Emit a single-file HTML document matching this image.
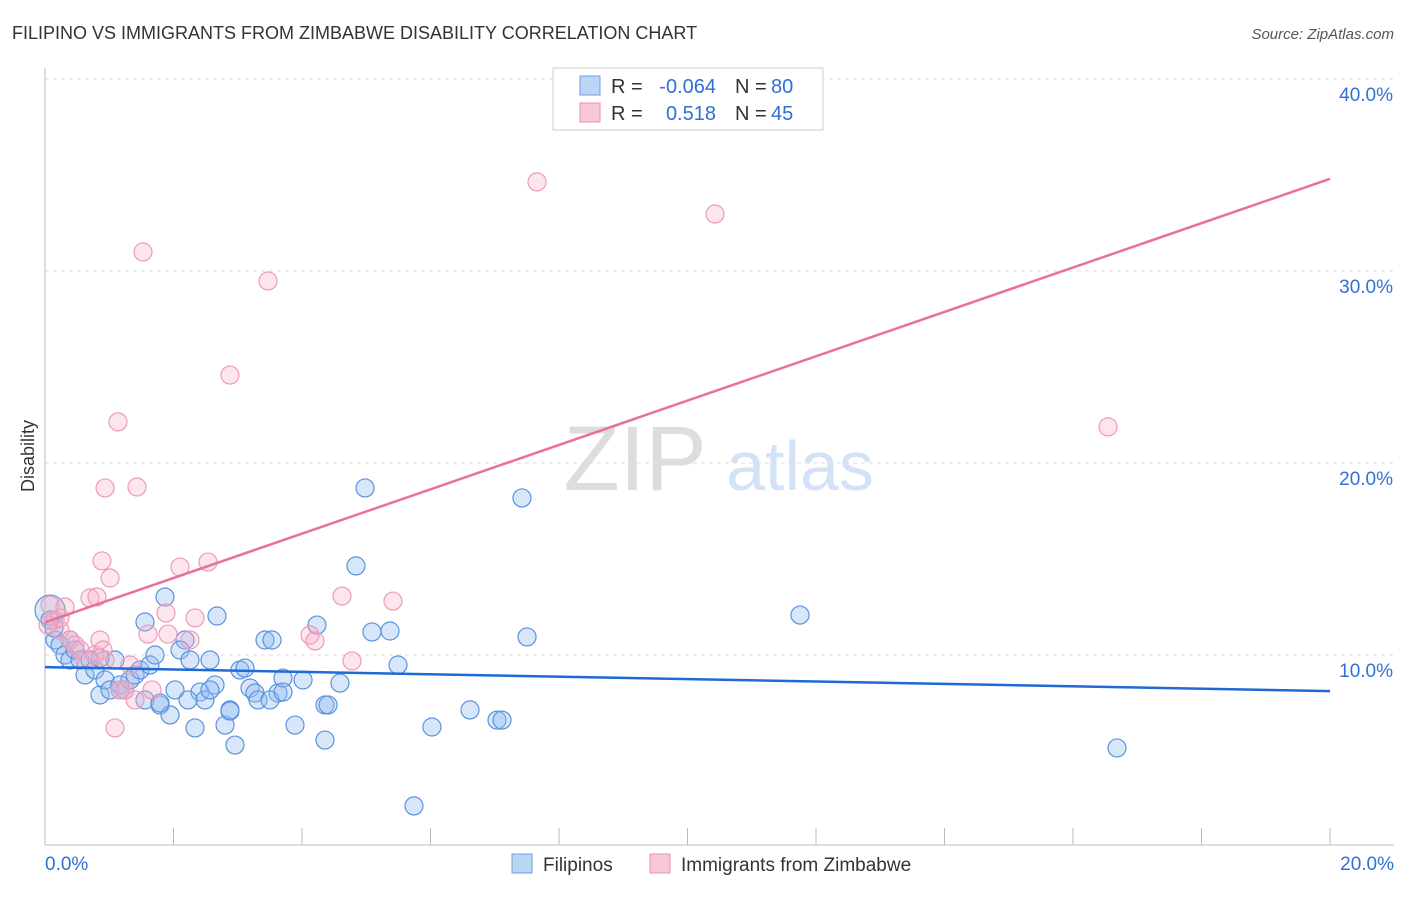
<!DOCTYPE html>
<html><head><meta charset="utf-8"><style>
body{margin:0;background:#fff;font-family:"Liberation Sans",sans-serif}
svg text{font-family:"Liberation Sans",sans-serif}
</style></head><body>
<svg id="chart" width="1406" height="892">
<text x="12" y="39" font-size="18" fill="#333">FILIPINO VS IMMIGRANTS FROM ZIMBABWE DISABILITY CORRELATION CHART</text>
<text x="1394" y="39" font-size="15" fill="#555" font-style="italic" text-anchor="end">Source: ZipAtlas.com</text>
<text x="34" y="456" font-size="18" fill="#333" transform="rotate(-90 34 456)" text-anchor="middle">Disability</text>
<g><text x="635" y="490" font-size="92" fill="#ddd" font-family="Liberation Serif" text-anchor="middle">ZIP</text><text x="800" y="490" font-size="70" fill="#d3e3f5" text-anchor="middle">atlas</text></g>
<g id="grid"></g><g id="axes"></g><g id="pts"></g><g id="lines"></g>
<g>
<rect x="553" y="68" width="270" height="62" fill="#fff" stroke="#ccc"/>
<rect x="580" y="76" width="20" height="19" fill="#bcd5f5" stroke="#6a9fe0"/>
<rect x="580" y="103" width="20" height="19" fill="#f9c8d8" stroke="#e890ad"/>
<text x="611" y="93" font-size="20" fill="#333">R =</text>
<text x="716" y="93" font-size="20" fill="#2f6fd6" text-anchor="end">-0.064</text>
<text x="735" y="93" font-size="20" fill="#333">N =</text>
<text x="771" y="93" font-size="20" fill="#2f6fd6">80</text>
<text x="611" y="120" font-size="20" fill="#333">R =</text>
<text x="716" y="120" font-size="20" fill="#2f6fd6" text-anchor="end">0.518</text>
<text x="735" y="120" font-size="20" fill="#333">N =</text>
<text x="771" y="120" font-size="20" fill="#2f6fd6">45</text>
</g>
<g>
<rect x="512" y="854" width="20" height="19" fill="#bcd5f5" stroke="#6a9fe0"/>
<text x="543" y="871" font-size="19" fill="#333">Filipinos</text>
<rect x="650" y="854" width="20" height="19" fill="#f9c8d8" stroke="#e890ad"/>
<text x="681" y="871" font-size="19" fill="#333">Immigrants from Zimbabwe</text>
</g>
</svg>
<script>
const bluePx=[[50,610],[50,620],[55,640],[60,645],[65,655],[70,660],[75,650],[80,660],[85,675],[90,660],[95,670],[100,695],[105,680],[110,690],[115,660],[120,685],[125,690],[130,680],[135,675],[140,670],[145,700],[150,665],[155,655],[145,622],[165,597],[160,705],[170,715],[175,690],[185,640],[180,650],[190,660],[195,728],[200,692],[205,700],[210,660],[215,685],[217,616],[225,725],[230,710],[235,745],[240,670],[245,668],[250,688],[255,693],[258,700],[265,640],[272,640],[278,693],[283,678],[295,725],[303,680],[317,625],[325,705],[328,705],[325,740],[340,683],[356,566],[365,488],[372,632],[390,631],[398,665],[414,806],[432,727],[470,710],[497,720],[502,720],[522,498],[527,637],[800,615],[1117,748],[54,628],[70,640],[100,658],[160,703],[188,700],[230,711],[270,700],[283,692],[210,690],[120,690]];
const pinkPx=[[50,605],[55,620],[60,630],[65,607],[70,640],[75,645],[80,650],[85,660],[90,598],[95,655],[100,640],[103,650],[105,660],[110,578],[118,422],[120,690],[115,728],[125,690],[130,665],[135,700],[137,487],[143,252],[148,634],[152,690],[166,613],[168,634],[180,567],[190,640],[195,618],[208,562],[230,375],[268,281],[310,635],[315,641],[342,596],[352,661],[393,601],[537,182],[715,214],[1108,427],[105,488],[102,561],[97,597],[60,618],[48,625]];
const blueX=bluePx.map(p=>+((p[0]-45)/64.25).toFixed(3));
const blueY=bluePx.map(p=>+((847-p[1])/19.2).toFixed(2));
const pinkX=pinkPx.map(p=>+((p[0]-45)/64.25).toFixed(3));
const pinkY=pinkPx.map(p=>+((847-p[1])/19.2).toFixed(2));
const yTicks=[10,20,30,40];
const yTickLabels=["10.0%","20.0%","30.0%","40.0%"];
const blueTrend=[9.37,8.12];
const pinkTrend=[11.7,34.8];
const X=v=>45+v*64.25, Y=v=>847-v*19.2;
const NS="http://www.w3.org/2000/svg";
function mk(t,a,p){const e=document.createElementNS(NS,t);for(const k in a)e.setAttribute(k,a[k]);p.appendChild(e);return e;}
const grid=document.getElementById('grid'),axes=document.getElementById('axes'),pts=document.getElementById('pts'),lines=document.getElementById('lines');
yTicks.forEach((t,i)=>{
 const l=mk('line',{x1:45,x2:1394,y1:Y(t),y2:Y(t),stroke:'#ddd','stroke-dasharray':'4,4'},grid);
 
 
 const tx=mk('text',{x:1393,y:Y(t)+22,'font-size':19,fill:'#2f6fd6','text-anchor':'end'},axes);
 tx.textContent=yTickLabels[i];
 
 
});
mk('line',{x1:45,x2:45,y1:68,y2:845,stroke:'#bbb'},axes);
mk('line',{x1:45,x2:1394,y1:845,y2:845,stroke:'#bbb'},axes);
for(let i=0;i<=10;i++){const x=X(i*2);mk('line',{x1:x,x2:x,y1:828,y2:845,stroke:'#bbb'},axes);}
const xl=mk('text',{x:45,y:870,'font-size':19,fill:'#2f6fd6'},axes);xl.textContent='0.0%';


const xr=mk('text',{x:1394,y:870,'font-size':19,fill:'#2f6fd6','text-anchor':'end'},axes);xr.textContent='20.0%';


blueX.forEach((x,i)=>{
 const c=mk('circle',{cx:X(x),cy:Y(blueY[i]),r:i==0?15:9,fill:'rgba(150,188,238,0.38)',stroke:'#5a92e0','stroke-width':1.2},pts);
 
 
});
pinkX.forEach((x,i)=>{
 const c=mk('circle',{cx:X(x),cy:Y(pinkY[i]),r:9,fill:'rgba(245,175,198,0.33)',stroke:'#ee9ab8','stroke-width':1.2},pts);
 
 
});
const bl=mk('line',{x1:X(0),y1:Y(blueTrend[0]),x2:X(20),y2:Y(blueTrend[1]),stroke:'#1f6ad6','stroke-width':2.5},lines);


const pl=mk('line',{x1:X(0),y1:Y(pinkTrend[0]),x2:X(20),y2:Y(pinkTrend[1]),stroke:'#e8709a','stroke-width':2.5},lines);


</script>
</body></html>
